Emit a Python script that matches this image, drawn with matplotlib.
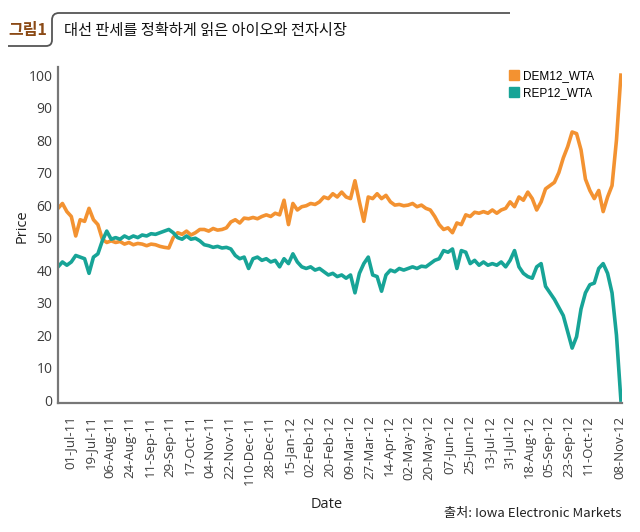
import numpy as np
import pandas as pd
import matplotlib
matplotlib.use("Agg")
import matplotlib.pyplot as plt
from matplotlib.path import Path
from matplotlib.patches import PathPatch
from matplotlib.lines import Line2D

plt.rcParams['font.family'] = ['Open Sans', 'Noto Sans CJK KR', 'DejaVu Sans']

# values, one point every 4 days from 20-Jun-11
dem = [59, 60.5, 58, 56.5, 50.5, 55.5, 55, 59, 55.5, 54,
       49.5, 48.5, 49, 48.5, 48.8, 48, 48.5, 47.8, 48.2, 48,
       47.5, 48, 47.8, 47.3, 47, 46.8, 50, 51.5, 51, 52,
       50.8, 51.5, 52.5, 52.5, 52, 52.8, 52.3, 52.5, 53, 54.8,
       55.5, 54.5, 56, 55.8, 56.2, 55.8, 56.5, 57, 56.5, 57.5,
       57, 61.5, 54, 60.5, 58.5, 59.5, 59.8, 60.5, 60.2, 61,
       62.5, 62, 63.5, 62.5, 64, 62.5, 62, 67.5, 61, 55,
       62.5, 62, 63.5, 62, 63, 61, 60, 60.2, 59.8, 60,
       60.5, 59.5, 60, 59, 58.5, 56.5, 54, 52.5, 53, 51.5,
       54.5, 54, 57, 56.5, 57.8, 57.5, 58, 57.5, 58.5, 57.5,
       58.5, 59, 61, 59.5, 62.5, 61.5, 64, 62, 58.5, 61,
       65, 66, 67, 70, 74.5, 78, 82.5, 82, 77, 68,
       64.5, 62, 64.5, 58, 62.5, 66, 80, 100]
rep = [41, 42.5, 41.5, 42.5, 44.5, 44, 43.5, 39, 44, 45,
       49, 52, 49.5, 50, 49.5, 50.5, 49.8, 50.5, 50, 50.8,
       50.5, 51.2, 51, 51.5, 52, 52.5, 51.5, 50, 49.5, 50.5,
       49.5, 49.8, 49, 47.8, 47.5, 47, 47.3, 46.8, 47, 46.5,
       44.5, 43.5, 44, 40.5, 43.5, 44, 43, 43.5, 42.5, 43,
       41, 43.5, 42, 45, 42.5, 41, 40.5, 41, 40, 40.5,
       39.5, 38.5, 39, 38, 38.5, 37.5, 38.5, 33, 39, 42,
       44, 38.5, 38, 33.5, 38.5, 40, 39.5, 40.5, 40, 40.5,
       41, 40.5, 41.2, 41, 42, 43, 43.5, 46, 45.5, 46.5,
       40.5, 46, 45.5, 42, 43, 41.5, 42.5, 41.5, 42, 41.5,
       42.5, 41, 43, 46, 41, 39, 38, 37.5, 41, 42,
       35, 33, 31, 28.5, 26, 21, 16, 19.5, 28, 33,
       35.5, 36, 40.5, 42, 39, 33, 20, 0]
dates = pd.date_range('2011-06-20', periods=len(dem), freq='4D')

tick_labels = ['01-Jul-11', '19-Jul-11', '06-Aug-11', '24-Aug-11', '11-Sep-11',
               '29-Sep-11', '17-Oct-11', '04-Nov-11', '22-Nov-11', '110-Dec-11',
               '28-Dec-11', '15-Jan-12', '02-Feb-12', '20-Feb-12', '09-Mar-12',
               '27-Mar-12', '14-Apr-12', '02-May-12', '20-May-12', '07-Jun-12',
               '25-Jun-12', '13-Jul-12', '31-Jul-12', '18-Aug-12', '05-Sep-12',
               '23-Sep-12', '11-Oct-12', '08-Nov-12']
tick_dates = list(pd.date_range('2011-07-01', periods=27, freq='18D')) + [pd.Timestamp('2012-11-08')]

orange = '#F39231'
teal = '#17A497'
W, H = 640, 532

fig = plt.figure(figsize=(6.4, 5.32), dpi=100)
ax = fig.add_axes([58 / W, 1 - 403 / H, (622 - 58) / W, (403 - 67) / H])

ax.plot(dates, dem, color=orange, lw=2.6, label='DEM12_WTA')
ax.plot(dates, rep, color=teal, lw=2.6, label='REP12_WTA')

ax.set_xlim(pd.Timestamp('2011-06-20'), pd.Timestamp('2012-11-10'))
ax.set_ylim(-0.9, 102.5)
ax.set_yticks(range(0, 101, 10))
ax.set_xticks(tick_dates)
ax.set_xticklabels(tick_labels, rotation=90)
ax.tick_params(axis='both', length=0, labelcolor='#3c3c3c', labelsize=9.5)
ax.tick_params(axis='x', pad=9)
ax.tick_params(axis='y', pad=4, labelsize=10)
for s in ['top', 'right']:
    ax.spines[s].set_visible(False)
for s in ['left', 'bottom']:
    ax.spines[s].set_color('#777777')
    ax.spines[s].set_linewidth(1.6)

fig.text(22 / W, 1 - 226 / H, 'Price', fontsize=10.5, color='#222222',
         rotation=90, ha='center', va='center')
fig.text(327 / W, 1 - 504 / H, 'Date', fontsize=10.5, color='#222222', ha='center', va='center')

handles = [Line2D([], [], marker='s', ls='', color=orange, markersize=6.5),
           Line2D([], [], marker='s', ls='', color=teal, markersize=6.5)]
ax.legend(handles, ['DEM12_WTA', 'REP12_WTA'], loc='upper left',
          bbox_to_anchor=(510 / W, 1 - 70 / H), bbox_transform=fig.transFigure,
          frameon=False, handlelength=0.6, handletextpad=0.5, labelspacing=0.45,
          borderpad=0, borderaxespad=0,
          prop={'family': ['Liberation Sans', 'DejaVu Sans'], 'size': 8.5})

# header bracket line
pts = [(8, 46), (46, 46), (52, 46), (52, 40), (52, 20), (52, 13), (59, 13), (510, 13)]
codes = [Path.MOVETO, Path.LINETO, Path.CURVE3, Path.CURVE3, Path.LINETO,
         Path.CURVE3, Path.CURVE3, Path.LINETO]
path = Path([(x / W, 1 - y / H) for x, y in pts], codes)
fig.add_artist(PathPatch(path, fill=False, edgecolor='#555555', lw=1.3,
                         transform=fig.transFigure))

fig.text(8 / W, 1 - 30 / H, '그림1', fontsize=11.5, fontweight='bold', color='#8B4A16',
         family=['Noto Sans CJK KR', 'DejaVu Sans'], va='center', ha='left')
fig.text(64 / W, 1 - 30 / H, '대선 판세를 정확하게 읽은 아이오와 전자시장', fontsize=11,
         fontweight='medium', color='#111111', family=['Noto Sans CJK KR', 'DejaVu Sans'],
         va='center', ha='left')

fig.text(622 / W, 1 - 513 / H, '출처: Iowa Electronic Markets', fontsize=9.5,
         color='#222222', family=['Noto Sans CJK KR', 'DejaVu Sans'], va='center', ha='right')

fig.savefig('out.png', dpi=100)
